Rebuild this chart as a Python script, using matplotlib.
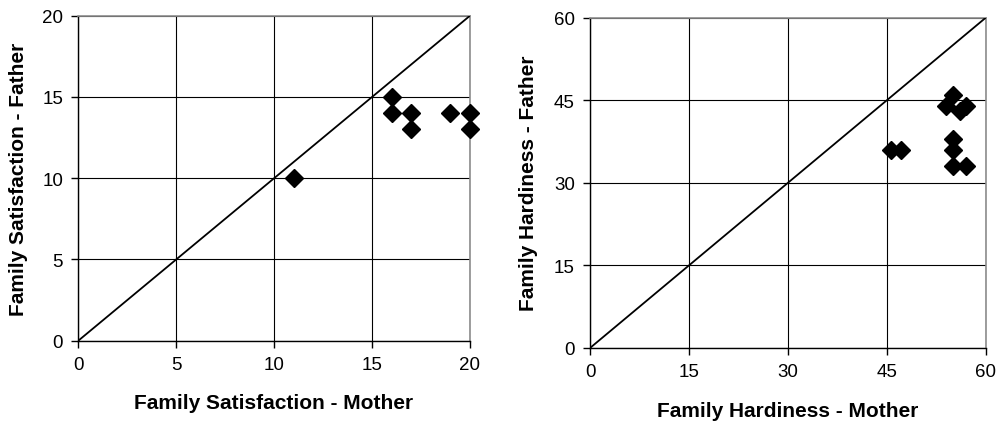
import matplotlib
matplotlib.use("Agg")
import matplotlib.pyplot as plt

plt.rcParams['font.family'] = ['Liberation Sans', 'DejaVu Sans']

# Family satisfaction scores (mother vs father)
sat_mother = [11, 16, 16, 17, 17, 19, 20, 20]
sat_father = [10, 15, 14, 14, 13, 14, 14, 13]
sat_ticks = [0, 5, 10, 15, 20]

# Family hardiness scores (mother vs father)
hard_mother = [45.6, 47.1, 55, 54, 57, 56, 55, 55, 55, 57]
hard_father = [36, 36, 46, 44, 44, 43, 38, 36, 33, 33]
hard_ticks = [0, 15, 30, 45, 60]

W, H = 1003, 427
fig = plt.figure(figsize=(W / 100, H / 100), dpi=100)


def px_axes(x0, x1, y_top, y_bottom):
    return fig.add_axes([x0 / W, 1 - y_bottom / H, (x1 - x0) / W, (y_bottom - y_top) / H])


def style(ax, ticks, xs, ys, ms):
    lo, hi = ticks[0], ticks[-1]
    ax.set_xlim(lo, hi)
    ax.set_ylim(lo, hi)
    ax.set_xticks(ticks)
    ax.set_yticks(ticks)
    ax.grid(True, color='black', linewidth=0.8)
    ax.set_axisbelow(True)
    for side in ('top', 'right'):
        ax.spines[side].set_color('#8c8c8c')
        ax.spines[side].set_linewidth(1.2)
    for side in ('left', 'bottom'):
        ax.spines[side].set_color('black')
        ax.spines[side].set_linewidth(1.0)
    ax.tick_params(direction='out', length=5, width=1.0, labelsize=13.5, pad=6, colors='black')
    ax.plot([lo, hi], [lo, hi], color='black', linewidth=1.3, zorder=3)
    ax.plot(xs, ys, linestyle='none', marker='D', markersize=ms,
            color='black', zorder=4, clip_on=False)


ax1 = px_axes(78.3, 470, 16.7, 341.7)
style(ax1, sat_ticks, sat_mother, sat_father, 9.6)

ax2 = px_axes(590, 986, 18.5, 349)
style(ax2, hard_ticks, hard_mother, hard_father, 8.8)

label_kw = dict(fontsize=15, fontweight='bold', ha='center', va='center')
fig.text(274 / W, 1 - 404 / H, 'Family Satisfaction - Mother', **label_kw)
fig.text(18.5 / W, 1 - 179 / H, 'Family Satisfaction - Father', rotation=90, **label_kw)
fig.text(788 / W, 1 - 412 / H, 'Family Hardiness - Mother', **label_kw)
fig.text(528 / W, 1 - 183 / H, 'Family Hardiness - Father', rotation=90, **label_kw)

fig.savefig('out.png', dpi=100)
